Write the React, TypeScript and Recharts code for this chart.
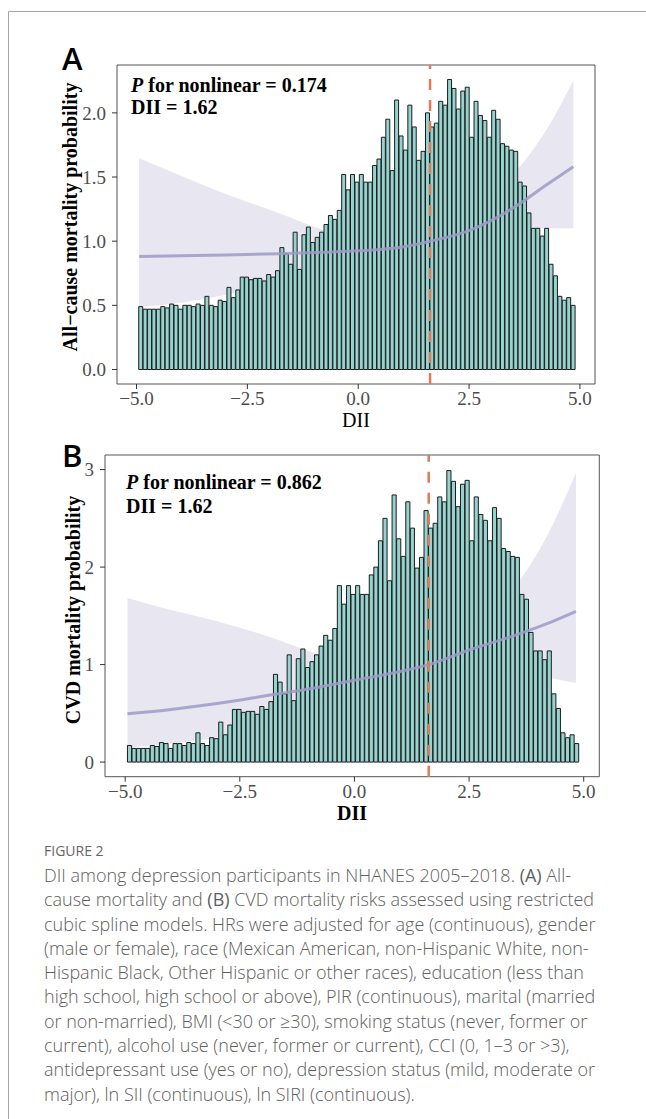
import React from 'react'
import {
  ComposedChart,
  Bar,
  Area,
  Line,
  XAxis,
  YAxis,
  ReferenceLine,
  ReferenceArea
} from 'recharts'

const W = 646
const H = 1119

// histogram bins of DII (same bins in both panels)
const BIN_START = -4.95
const BIN_WIDTH = 0.0995
const DII_CUTOFF = 1.62

// bar heights as drawn on each panel's y axis
const allCauseBars = [
  0.49, 0.47, 0.47, 0.47, 0.47, 0.49, 0.48, 0.51, 0.50, 0.47,
  0.50, 0.50, 0.49, 0.51, 0.50, 0.57, 0.50, 0.49, 0.54, 0.53,
  0.64, 0.56, 0.62, 0.72, 0.72, 0.70, 0.71, 0.71, 0.69, 0.74,
  0.72, 0.77, 0.95, 0.90, 0.82, 1.07, 0.78, 1.05, 1.11, 0.99,
  1.03, 1.07, 1.13, 1.20, 1.17, 1.24, 1.52, 1.40, 1.52, 1.46,
  1.52, 1.46, 1.46, 1.59, 1.64, 1.81, 1.95, 1.55, 2.10, 1.82,
  1.71, 2.06, 1.89, 1.63, 1.70, 2.00, 1.89, 1.92, 2.09, 2.06,
  2.26, 2.19, 2.03, 2.17, 2.20, 1.81, 2.09, 1.98, 1.94, 1.81,
  2.02, 1.95, 1.76, 1.74, 1.71, 1.70, 1.46, 1.43, 1.22, 1.10,
  1.10, 1.04, 1.10, 0.82, 0.73, 0.57, 0.54, 0.56, 0.50
]

const cvdBars = [
  0.17, 0.14, 0.14, 0.14, 0.14, 0.17, 0.16, 0.20, 0.19, 0.14,
  0.19, 0.19, 0.17, 0.20, 0.19, 0.30, 0.19, 0.17, 0.25, 0.24,
  0.41, 0.28, 0.38, 0.54, 0.54, 0.51, 0.52, 0.52, 0.49, 0.57,
  0.54, 0.62, 0.90, 0.82, 0.70, 1.10, 0.63, 1.06, 1.16, 0.97,
  1.03, 1.10, 1.19, 1.30, 1.25, 1.37, 1.81, 1.62, 1.81, 1.72,
  1.81, 1.72, 1.72, 1.92, 2.00, 2.27, 2.50, 1.86, 2.74, 2.29,
  2.11, 2.67, 2.40, 1.99, 2.10, 2.58, 2.40, 2.45, 2.72, 2.67,
  2.99, 2.88, 2.62, 2.85, 2.89, 2.27, 2.72, 2.54, 2.48, 2.27,
  2.61, 2.50, 2.19, 2.16, 2.11, 2.10, 1.72, 1.67, 1.33, 1.14,
  1.14, 1.05, 1.14, 0.70, 0.55, 0.30, 0.25, 0.28, 0.19
]

// restricted cubic spline, panel A
const allCauseX = [-4.94, -4.0, -3.0, -1.8, -0.8, 0.0, 1.0, 1.62, 2.5, 3.5, 4.25, 4.85]
const allCauseHr = [0.881, 0.886, 0.893, 0.903, 0.914, 0.925, 0.955, 1.0, 1.083, 1.26, 1.44, 1.58]
const allCauseLow = [0.487, 0.52, 0.58, 0.67, 0.77, 0.83, 0.925, 1.0, 0.985, 1.05, 1.1, 1.1]
const allCauseHigh = [1.646, 1.51, 1.37, 1.22, 1.09, 1.03, 0.985, 1.0, 1.19, 1.52, 1.87, 2.25]

// restricted cubic spline, panel B
const cvdX = [-4.95, -4.0, -3.0, -1.8, -1.0, 0.0, 1.0, 1.62, 2.5, 3.5, 4.2, 4.83]
const cvdHr = [0.496, 0.54, 0.6, 0.69, 0.75, 0.84, 0.93, 1.0, 1.15, 1.3, 1.42, 1.547]
const cvdLow = [0.146, 0.19, 0.25, 0.373, 0.49, 0.69, 0.88, 1.0, 0.96, 0.94, 0.87, 0.81]
const cvdHigh = [1.684, 1.56, 1.445, 1.275, 1.14, 1.02, 0.985, 1.0, 1.38, 1.8, 2.32, 2.965]

const X_DOMAIN: [number, number] = [-5.44, 5.34]
const X_TICKS = [-5, -2.5, 0, 2.5, 5]
const Y_AXIS_W = 60

const SERIF = "'Liberation Serif', 'Times New Roman', serif"
const BAR_FILL = '#96D3CF'
const SPLINE = '#9E9AC8'
const CUTOFF_COLOR = '#DF7A5A'
const AXIS_GREY = '#4d4d4d'

const minus = (s: string) => s.replace('-', '\u2212')

interface PanelProps {
  bars: number[]
  splineX: number[]
  hr: number[]
  low: number[]
  high: number[]
  yDomain: [number, number]
  yTicks: number[]
  yFmt: (v: number) => string
  width: number
  height: number
  margin: { top: number; right: number; bottom: number; left: number }
}

const Panel = ({ bars, splineX, hr, low, high, yDomain, yTicks, yFmt, width, height, margin }: PanelProps) => {
  const binData = bars.map((v, i) => ({ dii: BIN_START + BIN_WIDTH * (i + 0.5), prob: v }))
  const splineData = splineX.map((x, i) => ({ dii: x, hr: hr[i], band: [low[i], high[i]] }))
  const plotW = width - margin.left - margin.right - Y_AXIS_W
  const barSize = (BIN_WIDTH * plotW) / (X_DOMAIN[1] - X_DOMAIN[0])

  return (
    <ComposedChart width={width} height={height} data={binData} margin={margin} barGap={0} barCategoryGap={0}>
      <XAxis
        dataKey="dii"
        type="number"
        domain={X_DOMAIN}
        ticks={X_TICKS}
        allowDataOverflow
        height={40}
        axisLine={false}
        tickLine={{ stroke: '#333' }}
        tickSize={5}
        tickMargin={3}
        tick={{ fontFamily: SERIF, fontSize: 19, fill: AXIS_GREY }}
        tickFormatter={(v: number) => minus(v.toFixed(1))}
      />
      {/* spline gets its own hidden x axis so the bins keep their full width */}
      <XAxis xAxisId="spline" dataKey="dii" type="number" domain={X_DOMAIN} allowDataOverflow hide />
      <YAxis
        type="number"
        domain={yDomain}
        ticks={yTicks}
        allowDataOverflow
        width={Y_AXIS_W}
        axisLine={false}
        tickLine={{ stroke: '#333' }}
        tickSize={5}
        tickMargin={6}
        tick={{ fontFamily: SERIF, fontSize: 19, fill: AXIS_GREY }}
        tickFormatter={yFmt}
      />
      <Bar
        dataKey="prob"
        fill={BAR_FILL}
        stroke="#1c1c1c"
        strokeWidth={1}
        barSize={barSize}
        isAnimationActive={false}
      />
      <Area
        xAxisId="spline"
        data={splineData}
        dataKey="band"
        type="monotone"
        fill={SPLINE}
        fillOpacity={0.25}
        stroke="none"
        isAnimationActive={false}
      />
      <Line
        xAxisId="spline"
        data={splineData}
        dataKey="hr"
        type="monotone"
        stroke={SPLINE}
        strokeOpacity={0.85}
        strokeWidth={3}
        dot={false}
        isAnimationActive={false}
      />
      <ReferenceLine x={DII_CUTOFF} stroke={CUTOFF_COLOR} strokeWidth={2.5} strokeDasharray="11 10" />
      <ReferenceArea
        x1={X_DOMAIN[0]}
        x2={X_DOMAIN[1]}
        y1={yDomain[0]}
        y2={yDomain[1]}
        fill="none"
        fillOpacity={0}
        stroke="#555"
        strokeWidth={1}
        ifOverflow="visible"
      />
    </ComposedChart>
  )
}

const captionLines: React.ReactNode[] = [
  <>DII among depression participants in NHANES 2005–2018. <b>(A)</b> All-</>,
  <>cause mortality and <b>(B)</b> CVD mortality risks assessed using restricted</>,
  <>cubic spline models. HRs were adjusted for age (continuous), gender</>,
  <>(male or female), race (Mexican American, non-Hispanic White, non-</>,
  <>Hispanic Black, Other Hispanic or other races), education (less than</>,
  <>high school, high school or above), PIR (continuous), marital (married</>,
  <>or non-married), BMI (&lt;30 or ≥30), smoking status (never, former or</>,
  <>current), alcohol use (never, former or current), CCI (0, 1–3 or &gt;3),</>,
  <>antidepressant use (yes or no), depression status (mild, moderate or</>,
  <>major), ln SII (continuous), ln SIRI (continuous).</>
]

export default function App() {
  return (
    <div style={{ position: 'absolute', left: 0, top: 0, width: W, height: H, background: '#fff', overflow: 'hidden' }}>
      <div style={{ position: 'absolute', left: 0, top: 0 }}>
        <Panel
          bars={allCauseBars}
          splineX={allCauseX}
          hr={allCauseHr}
          low={allCauseLow}
          high={allCauseHigh}
          yDomain={[-0.113, 2.373]}
          yTicks={[0, 0.5, 1, 1.5, 2]}
          yFmt={(v) => v.toFixed(1)}
          width={W}
          height={440}
          margin={{ top: 65, right: 51, bottom: 16, left: 57 }}
        />
      </div>
      <div style={{ position: 'absolute', left: 0, top: 440 }}>
        <Panel
          bars={cvdBars}
          splineX={cvdX}
          hr={cvdHr}
          low={cvdLow}
          high={cvdHigh}
          yDomain={[-0.15, 3.15]}
          yTicks={[0, 1, 2, 3]}
          yFmt={(v) => String(v)}
          width={W}
          height={400}
          margin={{ top: 15, right: 46.7, bottom: 23.3, left: 45 }}
        />
      </div>

      {/* titles, labels and page frame */}
      <svg width={W} height={H} style={{ position: 'absolute', left: 0, top: 0, pointerEvents: 'none' }}>
        <line x1={8.5} y1={11.5} x2={W} y2={11.5} stroke="#a6a6a6" strokeWidth={1} />
        <line x1={8.5} y1={11.5} x2={8.5} y2={H} stroke="#a6a6a6" strokeWidth={1} />

        <text x={62} y={70} fontFamily="'Open Sans', 'Liberation Sans', sans-serif" fontWeight={600} fontSize={31} fill="#000">A</text>
        <text x={62} y={467} fontFamily="'Open Sans', 'Liberation Sans', sans-serif" fontWeight={600} fontSize={31} fill="#000">B</text>

        <g fontFamily={SERIF} fontWeight="bold" fontSize={20} fill="#000">
          <text x={131} y={91.5}><tspan fontStyle="italic">P</tspan> for nonlinear = 0.174</text>
          <text x={131} y={114}>DII = 1.62</text>
          <text x={126} y={489}><tspan fontStyle="italic">P</tspan> for nonlinear = 0.862</text>
          <text x={126} y={512.5}>DII = 1.62</text>

          <text x={77} y={217} textAnchor="middle" transform="rotate(-90 77 217)">All−cause mortality probability</text>
          <text x={80} y={610} textAnchor="middle" transform="rotate(-90 80 610)">CVD mortality probability</text>
          <text x={352} y={820} textAnchor="middle">DII</text>
        </g>
        <text x={356} y={427} textAnchor="middle" fontFamily={SERIF} fontSize={20} fill="#000">DII</text>
      </svg>

      <div
        style={{
          position: 'absolute',
          left: 44,
          top: 841,
          fontFamily: "'Open Sans', Lato, sans-serif",
          fontSize: 14,
          color: '#666',
          letterSpacing: 0
        }}
      >
        FIGURE 2
      </div>
      <div
        style={{
          position: 'absolute',
          left: 44,
          top: 863,
          fontFamily: "'Open Sans', Lato, sans-serif",
          fontWeight: 300,
          fontSize: 18,
          lineHeight: '24.3px',
          color: '#606060'
        }}
      >
        {captionLines.map((l, i) => (
          <div key={i} style={{ whiteSpace: 'nowrap' }}>{l}</div>
        ))}
      </div>
    </div>
  )
}
